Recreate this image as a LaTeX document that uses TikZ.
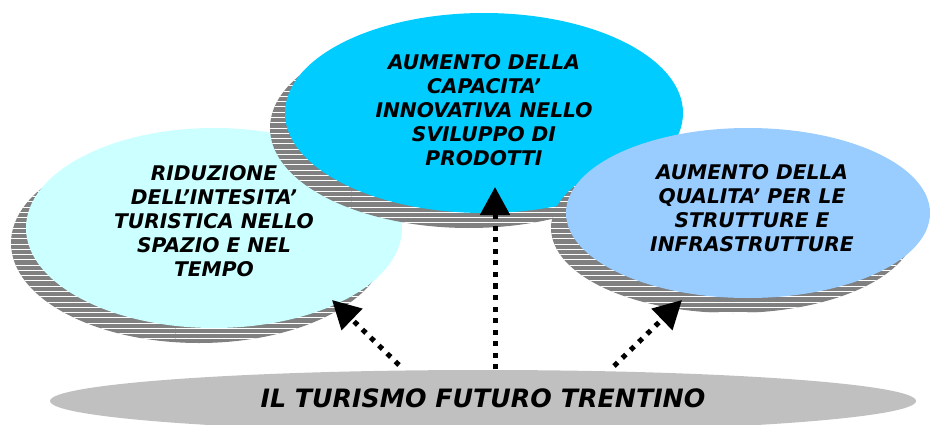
\documentclass[tikz,border=0pt]{standalone}
\usepackage{fontspec}
\setmainfont{DejaVu Sans}
\usepackage{tikz}
\usetikzlibrary{arrows.meta,shapes.geometric,patterns}
\definecolor{paleCyan}{HTML}{CCFFFF}
\definecolor{skyCyan}{HTML}{00CCFF}
\definecolor{softBlue}{HTML}{99CCFF}
\definecolor{baseGray}{HTML}{C0C0C0}
\definecolor{shadowGray}{HTML}{808080}
\tikzset{
  goal/.style={ellipse,inner sep=0pt},
  goaltext/.style={align=center,font=\fontsize{11.5}{13.6}\selectfont\bfseries\itshape},
  striped/.style={fill=shadowGray,postaction={pattern=horizontal lines,pattern color=white}},
  dotarrow/.style={line width=0.1cm,dash pattern=on 0.1cm off 0.13cm,-{Triangle[length=0.56cm,width=0.58cm]}}
}

\begin{document}
\begin{tikzpicture}
\useasboundingbox (0,0) rectangle (18.6,8.48);

\fill[striped] (3.98,3.62) ellipse [x radius=3.76,y radius=2.0];
\node[goal,fill=paleCyan,minimum width=7.52cm,minimum height=4cm] (riduzione) at (4.28,3.92) {};
\node[goaltext] (riduzioneTxt) at (4.28,4.06)
  {RIDUZIONE\\DELL’INTESITA’\\TURISTICA NELLO\\SPAZIO E NEL\\TEMPO};

\fill[striped] (9.38,5.92) ellipse [x radius=3.98,y radius=2.0];
\node[goal,fill=skyCyan,minimum width=7.96cm,minimum height=4cm] (capacita) at (9.68,6.22) {};
\node[goaltext] (capacitaTxt) at (9.68,6.28)
  {AUMENTO DELLA\\CAPACITA’\\INNOVATIVA NELLO\\SVILUPPO DI\\PRODOTTI};

\fill[striped] (14.66,3.92) ellipse [x radius=3.64,y radius=1.7];
\node[goal,fill=softBlue,minimum width=7.28cm,minimum height=3.4cm] (qualita) at (14.96,4.22) {};
\node[goaltext] (qualitaTxt) at (15.04,4.32)
  {AUMENTO DELLA\\QUALITA’ PER LE\\STRUTTURE E\\INFRASTRUTTURE};

\node[goal,fill=baseGray,minimum width=17.32cm,minimum height=1.24cm] (futuro) at (9.66,0.46) {};
\node[font=\fontsize{14.4}{16}\selectfont\bfseries\itshape] (futuroTxt) at (9.66,0.52) {IL TURISMO FUTURO TRENTINO};

\coordinate (fromL) at (7.98,1.18);
\coordinate (fromM) at (9.9,1.1);
\coordinate (fromR) at (12.28,1.16);
\coordinate (toL) at (6.64,2.48);
\coordinate (toM) at (9.9,4.74);
\coordinate (toR) at (13.64,2.48);
\draw[dotarrow] (fromL) -- (toL);
\draw[dotarrow] (fromM) -- (toM);
\draw[dotarrow] (fromR) -- (toR);
\end{tikzpicture}
\end{document}
